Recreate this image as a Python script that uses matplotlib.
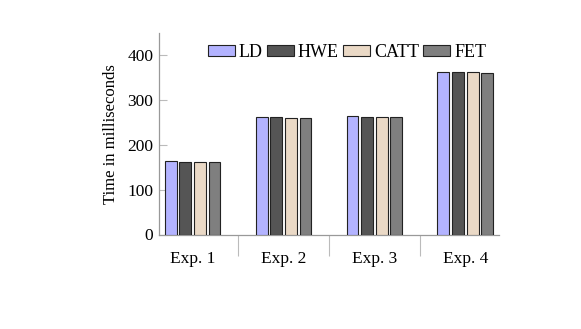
import matplotlib
matplotlib.use("Agg")
import matplotlib.pyplot as plt
import numpy as np

categories = ["Exp. 1", "Exp. 2", "Exp. 3", "Exp. 4"]
series_names = ["LD", "HWE", "CATT", "FET"]
LD = [164, 263, 264, 363.5]
HWE = [163, 263, 262, 363.5]
CATT = [161.5, 261, 262, 363.5]
FET = [161.5, 261, 262, 361]
colors = ["#b3b3ff", "#555555", "#ead9c6", "#7f7f7f"]

plt.rcParams['font.family'] = ['Liberation Serif', 'DejaVu Serif']

fig = plt.figure(figsize=(5.81, 3.29), dpi=100)
ax = fig.add_axes([159/581, 1 - 234.5/329, (499-159)/581, (234.5-33)/329])

x = np.arange(len(categories))
pitch = 0.161
width = 0.13
data = [LD, HWE, CATT, FET]
for i, (name, vals, c) in enumerate(zip(series_names, data, colors)):
    ax.bar(x + (i - 1.5) * pitch, vals, width=width, color=c, edgecolor="#222222",
           linewidth=0.8, label=name, zorder=3)

ax.set_xlim(-0.37, 3.37)
ax.set_ylim(0, 450)
ax.set_yticks([0, 100, 200, 300, 400])
ax.set_xticks(x)
ax.set_xticklabels(categories, fontsize=12.5)
ax.set_xticks(x[:-1] + 0.5, minor=True)
ax.tick_params(axis='x', which='major', length=0, pad=12)
ax.tick_params(axis='x', which='minor', length=15, direction='out', color='#bbbbbb', width=0.8)
ax.tick_params(axis='y', which='major', length=6, direction='in', color='#bbbbbb', width=0.8,
               labelsize=12.5, pad=4)
for s in ['top', 'right']:
    ax.spines[s].set_visible(False)
for s in ['left', 'bottom']:
    ax.spines[s].set_color('#999999')
    ax.spines[s].set_linewidth(0.9)

ax.set_ylabel("Time in milliseconds", fontsize=12, labelpad=6)

leg = ax.legend(ncol=4, loc='center', bbox_to_anchor=((347 - 159) / 340, (234.5 - 52.5) / 201.5),
                frameon=False, fontsize=13, handlelength=1.5, handleheight=0.5,
                handletextpad=0.22, columnspacing=0.22, borderaxespad=0)

fig.savefig("out.png", dpi=100)
